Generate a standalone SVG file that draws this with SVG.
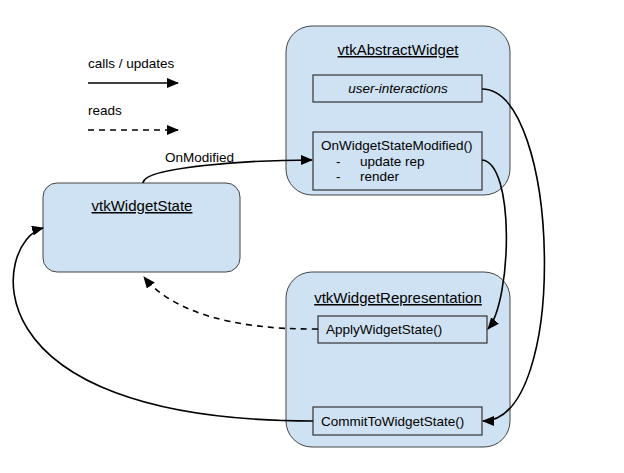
<svg xmlns="http://www.w3.org/2000/svg" width="624" height="473" viewBox="0 0 624 473">
<defs>
<marker id="ah" markerUnits="userSpaceOnUse" markerWidth="12" markerHeight="10" refX="11" refY="5" orient="auto">
<path d="M0,0 L12,5 L0,10 Z" fill="#000"/>
</marker>
<style>
text{font-family:"Liberation Sans",Arial,sans-serif;font-size:13.5px;fill:#000}
.big{fill:#cfe2f3;stroke:#444;stroke-width:1}
.inner{fill:#cfe2f3;stroke:#333;stroke-width:1.2}
.title{font-size:15px;text-decoration:underline;text-anchor:middle}
.c{fill:none;stroke:#000;stroke-width:1.6;marker-end:url(#ah)}
.d{stroke-dasharray:6,5}
</style>
</defs>
<rect width="624" height="473" fill="#fff"/>
<g id="legend">
<text x="88" y="68">calls / updates</text>
<line x1="88" y1="83" x2="178" y2="83" class="c"/>
<text x="88" y="115">reads</text>
<line x1="88" y1="130" x2="178" y2="130" class="c d"/>
</g>
<g id="vtkAbstractWidget">
<rect x="286" y="26" width="224" height="169" rx="26" class="big"/>
<text x="398" y="55" class="title">vtkAbstractWidget</text>
<g id="user-interactions">
<rect x="313" y="75" width="169" height="27" class="inner"/>
<text x="398" y="93" text-anchor="middle" font-style="italic">user-interactions</text>
</g>
<g id="OnWidgetStateModified">
<rect x="313" y="132" width="169" height="58" class="inner"/>
<text x="321" y="150">OnWidgetStateModified()</text>
<text x="336" y="166">-</text><text x="360" y="166">update rep</text>
<text x="336" y="181">-</text><text x="360" y="181">render</text>
</g>
</g>
<g id="vtkWidgetRepresentation">
<rect x="286" y="272" width="224" height="175" rx="26" class="big"/>
<text x="398" y="303" class="title">vtkWidgetRepresentation</text>
<g id="ApplyWidgetState">
<rect x="318" y="316" width="169" height="27" class="inner"/>
<text x="326" y="334">ApplyWidgetState()</text>
</g>
<g id="CommitToWidgetState">
<rect x="313" y="407" width="169" height="28" class="inner"/>
<text x="321" y="426">CommitToWidgetState()</text>
</g>
</g>
<g id="vtkWidgetState">
<rect x="43" y="183" width="197" height="89" rx="14" class="big"/>
<text x="142" y="211" class="title">vtkWidgetState</text>
</g>
<g id="connectors">
<path d="M143,183 C143,167 250,160 312,160" class="c"/>
<text x="165" y="162">OnModified</text>
<path d="M482,89 C560,89 570,421 483,421" class="c"/>
<path d="M482,160 C515,163 512,300 488,329" class="c"/>
<path d="M318,329 C230,330 170,310 144,277" class="c d"/>
<path d="M313,421 C-40,421 -5,240 43,228" class="c"/>
</g>
</svg>
